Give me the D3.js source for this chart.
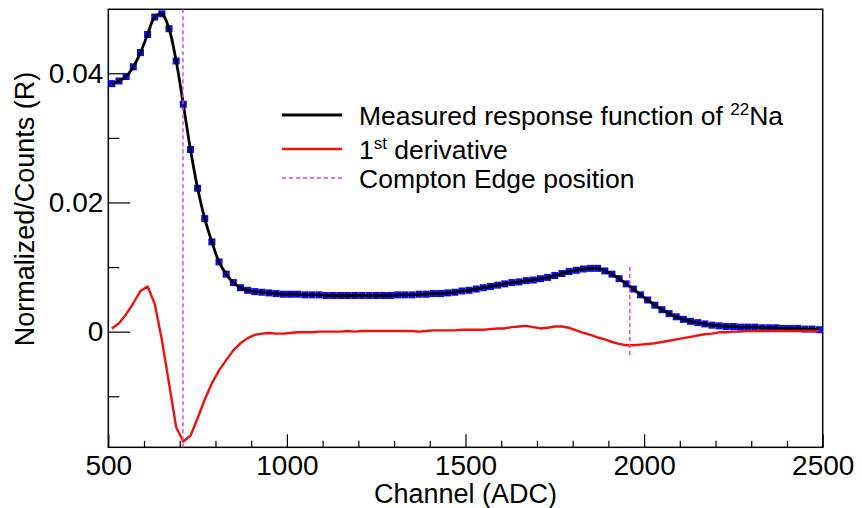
<!DOCTYPE html>
<html><head><meta charset="utf-8">
<script src="https://cdn.jsdelivr.net/npm/d3@7"></script>
<style>body{margin:0;background:#fff}svg{display:block;font-family:"Liberation Sans",Arial,Helvetica,sans-serif}</style>
</head><body><svg id="c" width="862" height="508"></svg>
<script>
// ---- data ----
const binCenters = d3.range(510, 2500, 20); // channel bin centres (ADC)
const response = [
0.0384,0.0388,0.0395,0.0410,0.0432,0.0460,0.0487,0.0492,0.0469,0.0419,
0.0352,0.0282,0.0222,0.0175,0.0139,0.0108,0.0089,0.0076,0.0068,0.0064,
0.0062,0.0061,0.0060,0.0059,0.0058,0.0058,0.0058,0.0057,0.0057,0.0057,
0.0056,0.0056,0.0056,0.0056,0.0056,0.0056,0.0056,0.0056,0.0056,0.0056,
0.0057,0.0057,0.0057,0.0058,0.0058,0.0059,0.0059,0.0060,0.0061,0.0063,
0.0064,0.0066,0.0068,0.0070,0.0072,0.0074,0.0076,0.0077,0.0079,0.0080,
0.0082,0.0084,0.0087,0.0090,0.0093,0.0095,0.0097,0.0098,0.0098,0.0094,
0.0089,0.0082,0.0074,0.0066,0.0057,0.0049,0.0041,0.0034,0.0028,0.0023,
0.0019,0.0016,0.0014,0.0012,0.0010,0.0009,0.0008,0.0008,0.0007,0.0007,
0.0007,0.0006,0.0006,0.0006,0.0005,0.0005,0.0005,0.0004,0.0004,0.0003];
const derivative = [
0.0005,0.0013,0.0027,0.0044,0.0063,0.0070,0.0043,-0.0013,-0.0080,-0.0148,
-0.0170,-0.0161,-0.0134,-0.0105,-0.0080,-0.0060,-0.0044,-0.0029,-0.0018,-0.0010,
-0.0005,-0.0003,-0.0002,-0.0003,-0.0003,-0.0002,-0.0001,-0.0001,-0.0001,0.0000,
0.0000,0.0000,0.0000,0.0001,0.0000,0.0001,0.0001,0.0001,0.0001,0.0001,
0.0001,0.0001,0.0001,0.0000,0.0001,0.0002,0.0002,0.0002,0.0002,0.0003,
0.0003,0.0003,0.0003,0.0004,0.0005,0.0005,0.0007,0.0008,0.0009,0.0007,
0.0005,0.0006,0.0008,0.0008,0.0006,0.0002,-0.0002,-0.0005,-0.0009,-0.0012,
-0.0016,-0.0019,-0.0021,-0.0021,-0.0020,-0.0019,-0.0018,-0.0016,-0.0014,-0.0012,
-0.0010,-0.0008,-0.0006,-0.0004,-0.0003,-0.0001,-0.0001,0.0000,0.0000,0.0001,
0.0001,0.0001,0.0001,0.0001,0.0001,0.0001,0.0001,0.0001,0.0001,0.0001];
const edgeChannels = [709, 1960];
const edgeTop = [0.0499, 0.0100];
const edgeBottom = [-0.0179, -0.0040];
const xMajorTicks = [500, 1000, 1500, 2000, 2500];
const yMajorTicks = [0, 0.02, 0.04];
const yTickLabels = ["0", "0.02", "0.04"];

// ---- layout ----
const svg = d3.select("#c");
const L = 108.3, R = 822.7, T = 9.3, B = 447.3;
const x = d3.scaleLinear().domain([500, 2500]).range([L, R]);
const y = d3.scaleLinear().domain([-0.0179, 0.0499]).range([B, T]);
const FONT = "Liberation Sans, Arial, sans-serif";

// ---- axes (ticks inside frame, ROOT style) ----
const xMinor = d3.range(500, 2501, 100).filter(v => !xMajorTicks.includes(v));
svg.append("g").attr("transform", `translate(0,${B})`)
  .call(d3.axisBottom(x).tickValues(xMinor).tickSize(-6.5).tickFormat(""))
  .call(g => g.select(".domain").remove())
  .call(g => g.selectAll("line").attr("stroke", "#000").attr("stroke-width", 1.2));
svg.append("g").attr("transform", `translate(0,${B})`)
  .call(d3.axisBottom(x).tickValues(xMajorTicks).tickSize(-13).tickPadding(8).tickFormat(d3.format("d")))
  .call(g => g.select(".domain").remove())
  .call(g => g.selectAll("line").attr("stroke", "#000").attr("stroke-width", 1.2))
  .call(g => g.selectAll("text").attr("font-size", 28).attr("fill", "#000").attr("font-family", FONT));

const yMinor = [-0.01, 0.01, 0.03];
svg.append("g").attr("transform", `translate(${L},0)`)
  .call(d3.axisLeft(y).tickValues(yMinor).tickSize(-11).tickFormat(""))
  .call(g => g.select(".domain").remove())
  .call(g => g.selectAll("line").attr("stroke", "#000").attr("stroke-width", 1.2));
svg.append("g").attr("transform", `translate(${L},0)`)
  .call(d3.axisLeft(y).tickValues(yMajorTicks).tickSize(-22).tickPadding(5)
        .tickFormat((d, i) => yTickLabels[i]))
  .call(g => g.select(".domain").remove())
  .call(g => g.selectAll("line").attr("stroke", "#000").attr("stroke-width", 1.2))
  .call(g => g.selectAll("text").attr("font-size", 28).attr("fill", "#000").attr("font-family", FONT));

// frame
svg.append("rect").attr("x", L).attr("y", T).attr("width", R - L).attr("height", B - T)
  .attr("fill", "none").attr("stroke", "#000").attr("stroke-width", 1.5);

// axis titles
svg.append("text").attr("x", (L + R) / 2).attr("y", 503).attr("text-anchor", "middle")
  .attr("font-size", 27).text("Channel (ADC)");
svg.append("text").attr("transform", "translate(25,209) rotate(-90)").attr("dy", "0.35em")
  .attr("text-anchor", "middle").attr("font-size", 27).text("Normalized/Counts (R)");

// ---- data marks ----
const plot = svg.append("g");
const respPts = binCenters.map((c, i) => [c, response[i]]);
const derivPts = binCenters.map((c, i) => [c, derivative[i]]);

// markers
plot.selectAll("rect.m").data(respPts).join("rect").attr("class", "m")
  .attr("x", d => x(d[0]) - 3.5).attr("y", d => y(d[1]) - 3.5)
  .attr("width", 7).attr("height", 7).attr("fill", "#0a0af0");

plot.append("path").datum(respPts)
  .attr("d", d3.line().x(d => x(d[0])).y(d => y(d[1])).curve(d3.curveCatmullRom.alpha(0.5)))
  .attr("fill", "none").attr("stroke", "#000").attr("stroke-width", 2.8);
plot.append("path").datum(derivPts)
  .attr("d", d3.line().x(d => x(d[0])).y(d => y(d[1])))
  .attr("fill", "none").attr("stroke", "#f01010").attr("stroke-width", 2.4)
  .attr("stroke-linejoin", "round");

// Compton edges
plot.selectAll("line.edge").data(edgeChannels).join("line").attr("class", "edge")
  .attr("x1", d => x(d)).attr("x2", d => x(d))
  .attr("y1", (d, i) => y(edgeTop[i])).attr("y2", (d, i) => y(edgeBottom[i]))
  .attr("stroke", "#e040f0").attr("stroke-width", 1.5).attr("stroke-dasharray", "4,3");

// ---- legend ----
const lg = svg.append("g");
const rows = [115, 149, 178];
lg.append("line").attr("x1", 282).attr("x2", 342).attr("y1", rows[0]).attr("y2", rows[0])
  .attr("stroke", "#000").attr("stroke-width", 2.8);
lg.append("line").attr("x1", 282).attr("x2", 342).attr("y1", rows[1]).attr("y2", rows[1])
  .attr("stroke", "#f01010").attr("stroke-width", 2.4);
lg.append("line").attr("x1", 282).attr("x2", 342).attr("y1", rows[2]).attr("y2", rows[2])
  .attr("stroke", "#e040f0").attr("stroke-width", 1.5).attr("stroke-dasharray", "4,3");

const base = r => rows[r] + 9.5;
const t1 = lg.append("text").attr("x", 359).attr("y", base(0)).attr("font-size", 26.5);
t1.append("tspan").text("Measured response function of ");
t1.append("tspan").attr("font-size", 17).attr("dy", -10).text("22");
t1.append("tspan").attr("dy", 10).text("Na");
const t2 = lg.append("text").attr("x", 359).attr("y", base(1)).attr("font-size", 26.5);
t2.append("tspan").text("1");
t2.append("tspan").attr("font-size", 17).attr("dy", -10).text("st");
t2.append("tspan").attr("dy", 10).text(" derivative");
lg.append("text").attr("x", 359).attr("y", base(2)).attr("font-size", 26.5).text("Compton Edge position");
</script></body></html>
